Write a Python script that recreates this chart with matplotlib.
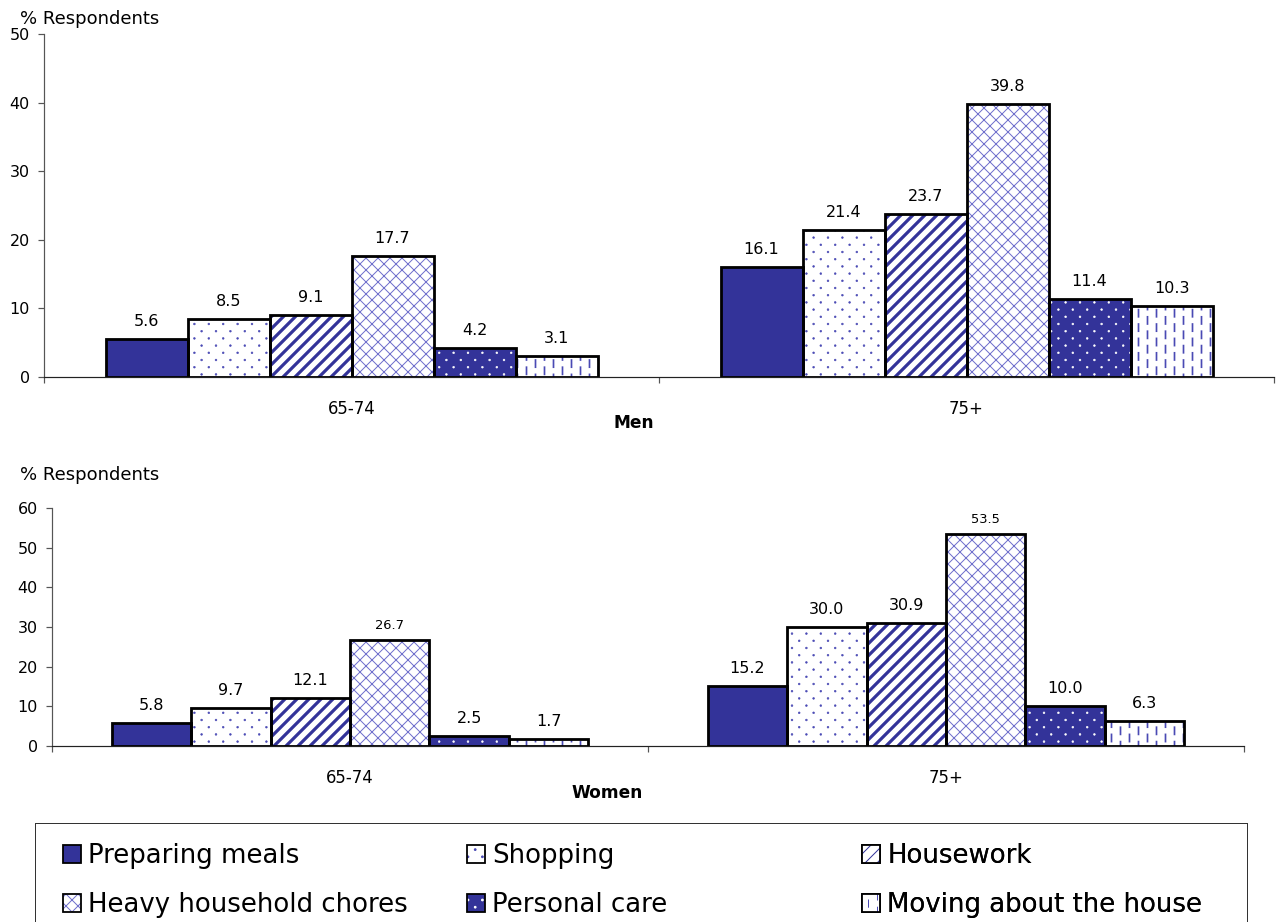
import warnings
warnings.filterwarnings("ignore")
import numpy as np
import matplotlib
matplotlib.use("Agg")
import matplotlib.pyplot as plt
from matplotlib import hatch as mhatch
from matplotlib.path import Path
from matplotlib.patches import Patch

# ---------------- data ----------------
groups = ["65-74", "75+"]
series = ["Preparing meals", "Shopping", "Housework",
          "Heavy household chores", "Personal care", "Moving about the house"]
men_65_74 = [5.6, 8.5, 9.1, 17.7, 4.2, 3.1]
men_75 = [16.1, 21.4, 23.7, 39.8, 11.4, 10.3]
women_65_74 = [5.8, 9.7, 12.1, 26.7, 2.5, 1.7]
women_75 = [15.2, 30.0, 30.9, 53.5, 10.0, 6.3]
men_yticks = [0, 10, 20, 30, 40, 50]
women_yticks = [0, 10, 20, 30, 40, 50, 60]


# ---------------- custom hatches (tile = 72 px at 72 dpi) ----------------
class LatticeDots(mhatch.HatchPatternBase):
    """Staggered small dots: wide column spacing, tight row spacing."""
    NCOLS = 5
    NROWS = 10
    R = 0.012

    def __init__(self, hatch, density):
        circ = Path.unit_circle()
        self.cv = circ.vertices
        self.cc = circ.codes
        self.pts = []
        if hatch.count(';') > 0:
            for i in range(self.NROWS + 1):
                y = i / self.NROWS
                off = 0.5 / self.NCOLS if i % 2 else 0.0
                for c in range(self.NCOLS + 1):
                    self.pts.append((c / self.NCOLS + off, y))
        self.num_vertices = len(self.pts) * len(self.cv)

    def set_vertices_and_codes(self, vertices, codes):
        m = len(self.cv)
        k = 0
        for (x, y) in self.pts:
            vertices[k:k + m] = self.cv * self.R + np.array([x, y])
            codes[k:k + m] = self.cc
            k += m


class VDashes(mhatch.HatchPatternBase):
    def __init__(self, hatch, density):
        n = hatch.count('!')
        self.ncols = 8 * n
        self.nrows = 5
        self.num_vertices = self.ncols * (self.nrows + 1) * 2

    def set_vertices_and_codes(self, vertices, codes):
        L = 0.1
        k = 0
        for c in range(self.ncols):
            x = (c + 0.5) / self.ncols
            shift = 0.5 / self.nrows if c % 2 else 0.0
            for r in range(self.nrows + 1):
                y0 = r / self.nrows - shift
                vertices[k] = (x, y0)
                vertices[k + 1] = (x, y0 + L)
                codes[k] = Path.MOVETO
                codes[k + 1] = Path.LINETO
                k += 2


mhatch._hatch_types.append(LatticeDots)
mhatch._hatch_types.append(VDashes)

# ---------------- styles ----------------
NAVY = "#333399"
styles = [
    dict(face=NAVY, hatch=None, hc=NAVY, hlw=1.0),
    dict(face="white", hatch=";", hc="#4a4ab4", hlw=0.6),
    dict(face="white", hatch="//", hc=NAVY, hlw=3.2),
    dict(face="white", hatch="xx", hc="#7070cc", hlw=1.0),
    dict(face=NAVY, hatch=";", hc="white", hlw=0.6),
    dict(face="white", hatch="!", hc="#4a4ab4", hlw=1.7),
]

plt.rcParams["font.family"] = ["DejaVu Sans"]
DPI = 72
W, H = 1282, 922
fig = plt.figure(figsize=(W / DPI, H / DPI), dpi=DPI)


def px_axes(l, r, b, t):
    return fig.add_axes([l / W, 1 - b / H, (r - l) / W, (b - t) / H])


def draw_panel(ax, data_by_group, yticks, xlabel, small_labels):
    x = np.arange(len(groups))
    n = len(series)
    bw = 0.8 / n
    for i, st in enumerate(styles):
        vals = [data_by_group[g][i] for g in range(len(groups))]
        pos = x + (i - (n - 1) / 2) * bw
        with plt.rc_context({"hatch.linewidth": st["hlw"]}):
            bars = ax.bar(pos, vals, bw, color=st["face"], edgecolor=st["hc"],
                          linewidth=0, hatch=st["hatch"], zorder=2)
        for b in bars:
            if hasattr(b, "set_hatch_linewidth"):
                b.set_hatch_linewidth(st["hlw"])
        outl = ax.bar(pos, vals, bw, fill=False, edgecolor="black",
                      linewidth=2.8, zorder=3)
        for j, b in enumerate(outl):
            v = vals[j]
            small = (i, j) in small_labels
            ax.annotate(f"{v:.1f}", (b.get_x() + b.get_width() / 2, v),
                        xytext=(0, 8 if small else 10), textcoords="offset points",
                        ha="center", va="bottom", fontsize=13 if small else 16)
    ax.set_xlim(-0.5, len(groups) - 0.5)
    ax.set_ylim(yticks[0], yticks[-1])
    ax.set_yticks(yticks)
    ax.set_xticks(x)
    ax.set_xticklabels(groups, fontsize=16.5)
    ax.set_xticks(np.arange(len(groups) + 1) - 0.5, minor=True)
    ax.tick_params(axis="x", which="major", length=0, pad=23)
    ax.tick_params(axis="x", which="minor", length=6, direction="out",
                   color="#555555", width=1.2)
    ax.tick_params(axis="y", length=6, direction="out", color="#555555",
                   width=1.2, labelsize=16, pad=8)
    for s in ["top", "right"]:
        ax.spines[s].set_visible(False)
    ax.spines["left"].set_color("#555555")
    ax.spines["left"].set_linewidth(1.2)
    ax.spines["bottom"].set_color("#222222")
    ax.spines["bottom"].set_linewidth(1.2)
    ax.spines["bottom"].set_zorder(4)
    ax.set_xlabel(xlabel, fontsize=17, fontweight="bold", va="center")
    ax.set_facecolor("none")


ax1 = px_axes(44, 1274, 377, 34)
draw_panel(ax1, [men_65_74, men_75], men_yticks, "Men", set())
ax1.xaxis.set_label_coords((634 - 44) / 1230, -(423 - 377) / 343)

ax2 = px_axes(52, 1244, 746, 508)
draw_panel(ax2, [women_65_74, women_75], women_yticks, "Women",
           {(3, 0), (3, 1)})
ax2.xaxis.set_label_coords((607 - 52) / 1192, -(793 - 746) / 238)

fig.text(20 / W, 1 - 19 / H, "% Respondents", fontsize=18, ha="left", va="center")
fig.text(20 / W, 1 - 475 / H, "% Respondents", fontsize=18, ha="left", va="center")

# ---------------- legend ----------------
lax = px_axes(35, 1247, 925, 823)
lax.set_xticks([])
lax.set_yticks([])
lax.set_facecolor("none")
for s in ["left", "right", "top", "bottom"]:
    lax.spines[s].set_color("#333333")
    lax.spines[s].set_linewidth(1.0)

handles = []
for st in styles:
    hp = Patch(facecolor=st["face"], edgecolor=st["hc"], linewidth=0, hatch=st["hatch"])
    if hasattr(hp, "set_hatch_linewidth"):
        hp.set_hatch_linewidth(st["hlw"])
    op = Patch(fill=False, edgecolor="black", linewidth=1.8)
    handles.append((hp, op))

col_x = [63, 467, 862]
order = [[0, 3], [1, 4], [2, 5]]
for c, idxs in enumerate(order):
    leg = lax.legend([handles[i] for i in idxs], [series[i] for i in idxs],
                     loc="upper left",
                     bbox_to_anchor=(col_x[c] / W, 1 - 843 / H),
                     bbox_transform=fig.transFigure,
                     frameon=False, fontsize=26, borderpad=0, borderaxespad=0,
                     handlelength=0.7, handleheight=0.7, handletextpad=0.27,
                     labelspacing=0.9)
    lax.add_artist(leg)

fig.savefig("out.png", dpi=DPI)
